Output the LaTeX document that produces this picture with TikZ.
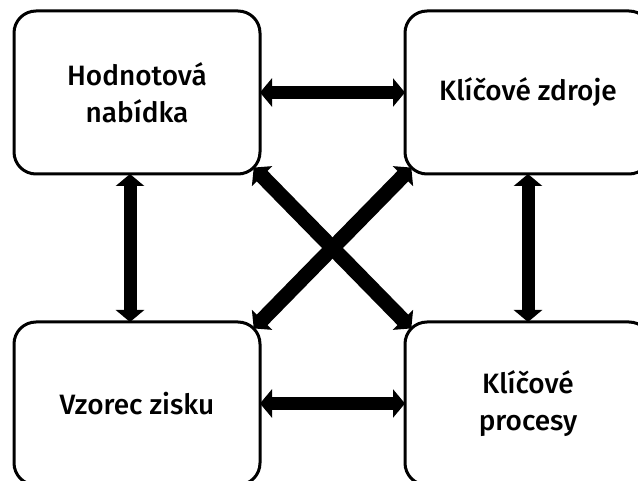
\documentclass[tikz,border=0pt]{standalone}
\usepackage{fontspec}
\setmainfont{Fira Sans}[UprightFont=* Medium]
\usetikzlibrary{arrows.meta,positioning}

\begin{document}
\begin{tikzpicture}[x=1pt, y=-1pt, node distance=145pt and 148pt,
    blok/.style={draw=black, line width=3pt, rounded corners=22pt, fill=white,
      minimum width=246pt, minimum height=163pt, outer sep=0pt, align=center,
      font=\fontsize{28}{37}\selectfont},
    sipka/.style={{Triangle[width=28pt,length=12pt]}-{Triangle[width=28pt,length=12pt]}, line width=13pt, black},
    sikmo/.style={sipka, line width=15pt, shorten <=-9pt, shorten >=-9pt}]
    \useasboundingbox (0,0) rectangle (638,481);
    \clip (0,0) rectangle (638,481);
    \node[blok] (nab) at (137,92.5) {Hodnotová\\nabídka};
    \node[blok,right=145pt of nab] (zdr) {Klíčové zdroje};
    \node[blok,below=148pt of nab] (zis) {Vzorec zisku};
    \node[blok,below=148pt of zdr] (pro) {Klíčové\\procesy};
    \draw[sipka] (nab.east)--(zdr.west);
    \draw[sipka] (zis.east)--(pro.west);
    \draw[sipka] ([xshift=-7pt]nab.south)--([xshift=-7pt]zis.north);
    \draw[sipka] (zdr.south)--(pro.north);
    \draw[sikmo] (nab.south east)--(pro.north west);
    \draw[sikmo] (zdr.south west)--(zis.north east);
  \end{tikzpicture}
\end{document}
